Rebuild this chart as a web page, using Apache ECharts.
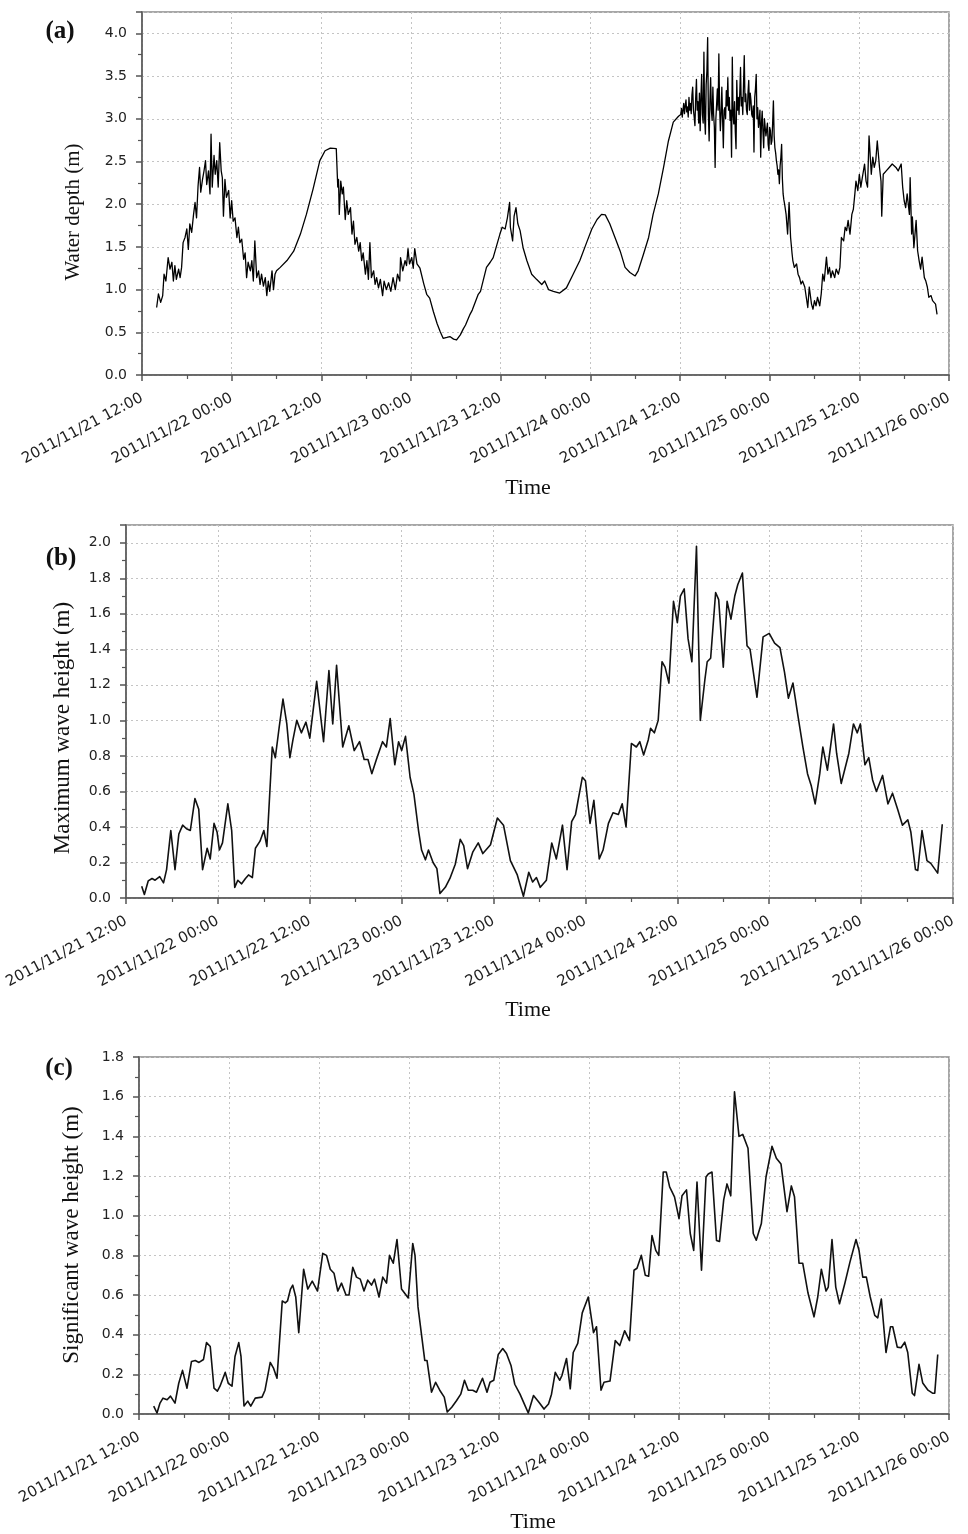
<!DOCTYPE html>
<html>
<head>
<meta charset="utf-8">
<script src="https://cdn.jsdelivr.net/npm/echarts@6/dist/echarts.min.js"></script>
<style>
html,body{margin:0;padding:0;background:#fff;}
#chart{width:968px;height:1534px;}
</style>
</head>
<body>
<div id="chart"></div>
<script>
// x positions are hours after 2011/11/21 12:00
const xTickLabels = ['2011/11/21 12:00','2011/11/22 00:00','2011/11/22 12:00','2011/11/23 00:00','2011/11/23 12:00','2011/11/24 00:00','2011/11/24 12:00','2011/11/25 00:00','2011/11/25 12:00','2011/11/26 00:00'];

// (a) water depth (m) — part 1: 21 12:00 to 24 12:00
const hoursA1 = [1.96,2.2,2.5,2.77,2.95,3.2,3.5,3.75,4.0,4.2,4.4,4.6,4.9,5.1,5.3,5.5,5.76,6.0,6.2,6.4,6.65,6.9,7.1,7.3,7.5,7.7,7.86,8.1,8.3,8.5,8.66,8.9,9.1,9.24,9.4,9.64,9.8,10.0,10.2,10.4,10.6,10.75,10.9,11.1,11.3,11.6,11.8,12.0,12.2,12.45,12.7,12.9,13.1,13.35,13.6,13.8,14.0,14.2,14.5,14.7,14.9,15.1,15.35,15.6,15.8,16.0,16.25,16.5,16.7,16.9,17.1,17.4,17.6,17.8,18.0,18.5,19.4,20.3,21.2,22.0,22.9,23.8,24.5,25.2,26.0,26.2,26.3,26.4,26.6,26.8,26.95,27.2,27.4,27.6,27.9,28.1,28.3,28.5,28.75,29.0,29.2,29.4,29.6,29.9,30.1,30.3,30.5,30.7,31.0,31.2,31.4,31.65,31.9,32.2,32.4,32.7,33.0,33.3,33.6,33.9,34.2,34.5,34.6,34.9,35.2,35.4,35.6,35.8,36.1,36.3,36.5,36.8,37.2,37.7,38.1,38.5,39.0,39.5,39.9,40.3,40.8,41.2,41.7,42.1,42.6,43.0,43.3,43.9,44.2,45.0,45.3,46.1,46.6,47.0,47.9,48.2,48.6,48.9,49.2,49.3,49.6,49.8,50.05,50.3,50.6,51.0,51.5,52.15,52.8,53.5,53.9,54.4,55.05,55.9,56.8,57.7,58.6,59.5,60.2,60.9,61.5,62.0,62.6,63.3,64.0,64.65,65.3,66.0,66.4,67.1,67.8,68.4,69.1,69.8,70.45,71.1,71.8];
const depthA1 = [0.79,0.95,0.85,0.93,1.18,1.10,1.375,1.24,1.32,1.10,1.28,1.12,1.24,1.14,1.26,1.55,1.61,1.71,1.47,1.77,1.67,1.88,2.02,1.84,2.21,2.43,2.14,2.29,2.39,2.51,2.23,2.39,2.12,2.82,2.20,2.57,2.35,2.51,2.20,2.72,2.39,2.31,1.86,2.29,2.08,2.16,1.84,2.04,1.80,1.84,1.61,1.73,1.55,1.59,1.355,1.43,1.14,1.32,1.22,1.34,1.10,1.57,1.14,1.22,1.06,1.18,1.04,1.14,0.93,1.10,0.98,1.22,1.00,1.18,1.22,1.26,1.34,1.45,1.65,1.88,2.18,2.51,2.625,2.656,2.65,2.20,2.29,1.88,2.27,2.12,2.20,1.82,2.04,1.88,1.96,1.65,1.80,1.53,1.61,1.45,1.55,1.34,1.43,1.18,1.34,1.12,1.55,1.14,1.22,1.06,1.14,1.02,1.12,0.93,1.10,1.00,1.08,0.98,1.14,1.00,1.18,1.10,1.375,1.22,1.34,1.28,1.48,1.30,1.375,1.25,1.48,1.30,1.25,1.07,0.945,0.90,0.74,0.60,0.51,0.43,0.44,0.45,0.42,0.41,0.47,0.54,0.585,0.71,0.76,0.945,0.98,1.26,1.32,1.375,1.65,1.73,1.71,1.84,2.02,1.73,1.57,1.86,1.96,1.77,1.69,1.49,1.34,1.18,1.12,1.06,1.10,1.00,0.98,0.96,1.02,1.18,1.34,1.55,1.71,1.82,1.88,1.875,1.77,1.61,1.45,1.26,1.20,1.16,1.22,1.41,1.61,1.88,2.12,2.43,2.74,2.96,3.03];
// (a) part 2: storm peak, 24 12:00 to 25 02:00
const hoursA2 = [72.1,72.2,72.3,72.4,72.5,72.6,72.7,72.8,72.9,73.0,73.1,73.2,73.3,73.4,73.5,73.6,73.7,73.8,73.9,74.0,74.1,74.2,74.3,74.4,74.5,74.6,74.7,74.8,74.9,75.0,75.1,75.2,75.3,75.4,75.5,75.6,75.7,75.8,75.9,76.0,76.1,76.2,76.3,76.4,76.5,76.6,76.7,76.8,76.9,77.0,77.1,77.2,77.3,77.4,77.5,77.6,77.7,77.8,77.9,78.0,78.1,78.2,78.3,78.4,78.5,78.6,78.7,78.8,78.9,79.0,79.1,79.2,79.3,79.4,79.5,79.6,79.7,79.8,79.9,80.0,80.1,80.2,80.3,80.4,80.5,80.6,80.7,80.8,80.9,81.0,81.1,81.2,81.3,81.4,81.5,81.6,81.7,81.8,81.9,82.0,82.1,82.2,82.3,82.4,82.5,82.6,82.7,82.8,82.9,83.0,83.1,83.2,83.3,83.4,83.5,83.6,83.7,83.8,83.9,84.0,84.1,84.2,84.3,84.4,84.5,84.6,84.7,84.8,84.9,85.0,85.1,85.2,85.3,85.4,85.5,85.6,85.7,85.8,85.9,86.0];
const depthA2 = [3.05,3.12,3.02,3.10,3.18,3.06,3.15,3.22,3.08,3.14,3.02,3.25,3.10,3.18,3.06,3.28,3.37,3.10,3.02,2.92,3.25,3.46,3.10,3.20,2.95,3.30,2.86,3.25,3.52,3.05,2.95,3.78,3.00,2.82,3.40,3.56,3.95,3.05,2.74,3.20,3.48,3.10,2.98,3.37,3.05,2.90,2.43,3.00,3.17,3.35,3.10,3.76,3.15,2.86,3.05,3.37,3.00,2.66,3.10,3.13,3.00,3.33,3.15,3.48,3.10,3.25,2.98,3.10,2.55,3.72,3.05,2.94,3.20,2.85,2.65,3.45,3.10,3.25,3.05,3.30,3.60,3.15,3.25,3.05,3.40,3.74,3.20,3.29,3.10,3.05,3.30,3.45,3.10,3.30,3.21,3.05,3.02,3.15,2.61,3.25,3.35,3.52,3.00,3.13,2.90,2.98,3.10,2.55,2.95,3.09,2.85,2.66,3.00,2.98,2.80,2.78,2.95,2.70,2.63,2.90,2.86,2.70,2.74,2.95,3.21,2.80,2.66,2.60,2.51,2.45,2.35,2.40,2.24,2.45,2.55,2.70,2.30,2.12,2.05,2.00];
// (a) part 3: 25 02:00 to end
const hoursA3 = [86.2,86.4,86.6,86.8,87.0,87.1,87.3,87.6,87.8,88.0,88.2,88.4,88.7,88.9,89.1,89.3,89.6,89.8,90.0,90.2,90.4,90.7,90.9,91.1,91.3,91.6,91.8,92.0,92.2,92.4,92.7,92.9,93.2,93.4,93.6,93.9,94.1,94.3,94.5,94.75,95.0,95.2,95.4,95.55,95.8,96.0,96.2,96.4,96.7,96.9,97.1,97.3,97.6,97.8,98.0,98.2,98.4,98.7,98.9,99.0,99.2,99.6,100.0,100.4,100.9,101.2,101.6,101.8,102.0,102.2,102.4,102.7,102.8,103.0,103.1,103.3,103.6,103.8,104.0,104.2,104.4,104.7,104.9,105.1,105.3,105.6,105.8,106.0,106.2,106.4];
const depthA3 = [1.88,1.65,2.02,1.61,1.42,1.34,1.26,1.30,1.18,1.14,1.065,1.10,1.03,0.91,0.79,1.03,0.83,0.77,0.87,0.81,0.91,0.81,0.95,1.18,1.10,1.38,1.18,1.26,1.14,1.22,1.14,1.24,1.18,1.26,1.61,1.57,1.73,1.69,1.81,1.65,1.88,1.94,2.12,2.27,2.16,2.35,2.20,2.31,2.47,2.27,2.20,2.80,2.35,2.55,2.43,2.51,2.74,2.43,2.27,1.86,2.35,2.39,2.43,2.47,2.43,2.39,2.47,2.20,2.04,1.96,2.12,1.88,2.31,1.65,1.85,1.49,1.81,1.455,1.34,1.24,1.38,1.14,1.10,1.03,0.91,0.93,0.87,0.85,0.83,0.71];

// (b) maximum wave height (m)
const hoursB = [2.05,2.4,2.9,3.4,3.8,4.4,4.9,5.3,5.85,6.4,6.9,7.4,7.9,8.4,9.0,9.5,10.0,10.6,11.0,11.5,11.9,12.2,12.6,13.3,13.8,14.2,14.6,15.1,15.6,16.0,16.5,16.9,17.5,18.0,18.4,19.1,19.5,20.0,20.5,21.0,21.4,21.8,22.3,22.9,23.5,24.0,24.9,25.8,26.5,27.0,27.5,28.3,29.1,29.8,30.5,31.1,31.6,32.1,32.7,33.5,34.0,34.5,35.1,35.6,36.0,36.5,37.1,37.6,38.2,38.6,39.1,39.5,40.1,40.6,41.0,41.7,42.3,43.0,43.65,44.1,44.6,45.3,46.0,46.6,47.6,48.5,49.3,50.2,51.1,51.9,52.6,53.1,53.6,54.1,54.9,55.6,56.2,57.0,57.6,58.2,58.7,59.6,60.0,60.6,61.1,61.8,62.3,63.0,63.6,64.3,64.8,65.3,66.0,66.65,67.1,67.6,68.2,68.5,69.0,69.5,70.0,70.4,70.9,71.5,72.0,72.4,72.9,73.4,73.9,74.5,75.0,75.6,75.9,76.35,77.0,77.4,78.0,78.5,79.0,79.5,79.9,80.5,81.1,81.5,82.4,83.2,84.0,84.7,85.4,86.0,86.5,87.1,87.7,88.4,89.0,89.5,90.0,90.6,91.0,91.6,92.4,92.8,93.4,94.4,95.0,95.5,95.9,96.5,97.0,97.5,98.0,98.8,99.5,100.1,100.8,101.4,102.1,102.5,103.1,103.4,103.95,104.6,105.1,106.0,106.6];
const maxWaveHeight = [0.066,0.02,0.096,0.11,0.10,0.12,0.085,0.16,0.38,0.16,0.36,0.41,0.39,0.38,0.56,0.50,0.16,0.28,0.22,0.42,0.37,0.27,0.31,0.53,0.38,0.06,0.10,0.08,0.11,0.13,0.115,0.28,0.32,0.38,0.29,0.85,0.79,0.96,1.12,0.98,0.79,0.89,1.0,0.93,0.99,0.90,1.22,0.88,1.28,0.98,1.31,0.85,0.97,0.83,0.88,0.78,0.78,0.70,0.78,0.88,0.85,1.01,0.75,0.88,0.83,0.91,0.68,0.585,0.38,0.27,0.215,0.27,0.20,0.165,0.025,0.06,0.11,0.19,0.33,0.295,0.165,0.26,0.31,0.25,0.30,0.45,0.41,0.21,0.13,0.01,0.145,0.09,0.115,0.06,0.10,0.31,0.22,0.41,0.16,0.43,0.47,0.68,0.66,0.42,0.55,0.22,0.27,0.42,0.48,0.47,0.53,0.40,0.87,0.85,0.88,0.805,0.89,0.955,0.93,1.0,1.33,1.30,1.21,1.67,1.55,1.70,1.74,1.46,1.33,1.98,1.00,1.23,1.33,1.35,1.72,1.68,1.30,1.67,1.57,1.70,1.765,1.83,1.42,1.40,1.13,1.47,1.49,1.435,1.41,1.27,1.125,1.21,1.04,0.85,0.70,0.63,0.53,0.70,0.85,0.72,0.98,0.815,0.645,0.815,0.98,0.93,0.98,0.75,0.79,0.665,0.60,0.69,0.53,0.59,0.495,0.41,0.44,0.37,0.16,0.155,0.38,0.21,0.195,0.14,0.415];

// (c) significant wave height (m)
const hoursC = [1.96,2.4,2.8,3.2,3.75,4.2,4.8,5.3,5.8,6.4,7.0,7.5,8.0,8.6,9.0,9.5,10.0,10.45,10.8,11.5,11.9,12.4,12.8,13.3,13.6,14.0,14.5,14.9,15.5,16.4,16.8,17.5,17.95,18.4,19.1,19.5,19.8,20.2,20.5,20.9,21.3,21.95,22.5,23.1,23.8,24.5,25.0,25.5,26.0,26.5,27.0,27.6,28.0,28.5,29.0,29.5,30.0,30.5,31.0,31.4,32.0,32.5,33.0,33.4,33.9,34.4,35.0,35.4,35.9,36.5,36.8,37.2,37.7,38.1,38.4,39.0,39.55,40.1,40.7,41.1,41.7,42.35,42.9,43.4,43.9,44.5,45.0,45.8,46.4,46.8,47.3,47.9,48.5,49.0,49.6,50.1,50.8,51.5,51.9,52.6,53.3,54.0,54.6,55.0,55.5,56.1,56.4,57.0,57.5,57.9,58.5,59.1,59.9,60.6,61.0,61.6,62.0,62.8,63.5,64.1,64.75,65.4,66.0,66.4,66.98,67.5,67.95,68.4,68.9,69.3,69.9,70.3,70.75,71.4,72.0,72.4,73.0,73.5,73.96,74.4,75.0,75.6,75.9,76.4,77.0,77.4,77.96,78.4,78.9,79.4,80.0,80.5,81.2,81.9,82.3,82.98,83.6,84.4,84.98,85.6,86.4,86.98,87.4,88.0,88.5,89.2,90.0,90.5,90.98,91.6,91.9,92.4,92.9,93.4,94.1,94.8,95.6,96.0,96.5,96.98,97.5,98.1,98.5,98.98,99.6,100.2,100.5,101.1,101.6,102.1,102.5,103.1,103.4,104.0,104.5,105.2,105.8,106.1,106.5];
const sigWaveHeight = [0.04,0.005,0.055,0.08,0.072,0.09,0.055,0.155,0.22,0.13,0.265,0.27,0.26,0.275,0.36,0.34,0.13,0.115,0.14,0.21,0.155,0.14,0.29,0.36,0.29,0.04,0.065,0.04,0.08,0.085,0.12,0.26,0.23,0.18,0.57,0.56,0.57,0.63,0.65,0.59,0.41,0.73,0.63,0.67,0.62,0.81,0.80,0.73,0.71,0.62,0.66,0.60,0.60,0.74,0.69,0.68,0.62,0.675,0.65,0.68,0.59,0.69,0.66,0.80,0.76,0.88,0.63,0.61,0.585,0.86,0.80,0.54,0.39,0.27,0.27,0.11,0.16,0.12,0.085,0.01,0.034,0.068,0.10,0.17,0.12,0.12,0.11,0.18,0.11,0.16,0.17,0.30,0.33,0.305,0.245,0.15,0.10,0.04,0.005,0.093,0.06,0.025,0.05,0.10,0.21,0.17,0.195,0.28,0.127,0.31,0.356,0.51,0.59,0.41,0.44,0.12,0.16,0.166,0.37,0.345,0.42,0.37,0.725,0.735,0.80,0.70,0.695,0.90,0.825,0.80,1.22,1.22,1.145,1.095,0.985,1.10,1.13,0.91,0.825,1.17,0.725,1.195,1.21,1.22,0.875,0.87,1.08,1.16,1.10,1.625,1.40,1.41,1.34,0.91,0.876,0.96,1.195,1.35,1.29,1.26,1.02,1.15,1.095,0.76,0.76,0.61,0.49,0.59,0.73,0.62,0.64,0.88,0.64,0.556,0.657,0.767,0.88,0.826,0.69,0.69,0.59,0.497,0.485,0.58,0.31,0.44,0.44,0.337,0.334,0.362,0.31,0.105,0.093,0.25,0.156,0.12,0.105,0.105,0.30];

const pair = (xs, ys) => xs.map((x, i) => [x, ys[i]]);
const waterDepthData = pair(hoursA1, depthA1).concat(pair(hoursA2, depthA2), pair(hoursA3, depthA3));

const AXIS_COLOR = '#555';
const GRID_LINE = {show: true, lineStyle: {color: '#c4c4c4', type: [2, 3], width: 1}};

function mkX(gi) {
  return {
    type: 'value', gridIndex: gi, min: 0, max: 108, interval: 12,
    axisLine: {show: true, onZero: false, lineStyle: {color: AXIS_COLOR, width: 1.5}},
    axisTick: {show: true, length: 6, lineStyle: {color: AXIS_COLOR, width: 1.5}},
    minorTick: {show: true, splitNumber: 2, length: 4, lineStyle: {color: AXIS_COLOR, width: 1.2}},
    splitLine: GRID_LINE,
    axisLabel: {
      rotate: 28, margin: 22, fontFamily: 'DejaVu Sans', fontSize: 15, color: '#222',
      formatter: v => xTickLabels[Math.round(v / 12)] || ''
    }
  };
}
function mkY(gi, max, interval, hideMax) {
  return {
    type: 'value', gridIndex: gi, min: 0, max: max, interval: interval,
    axisLine: {show: true, onZero: false, lineStyle: {color: AXIS_COLOR, width: 1.5}},
    axisTick: {show: true, length: 6, lineStyle: {color: AXIS_COLOR, width: 1.5}},
    minorTick: {show: true, splitNumber: 2, length: 4, lineStyle: {color: AXIS_COLOR, width: 1.2}},
    splitLine: GRID_LINE,
    axisLabel: {
      margin: 15, fontFamily: 'DejaVu Sans', fontSize: 14, color: '#222',
      showMaxLabel: !hideMax,
      formatter: v => v.toFixed(1)
    }
  };
}
const gridStyle = {show: true, borderColor: '#8a8a8a', borderWidth: 1.5, backgroundColor: '#fff'};

function txt(text, x, y, size, bold, rot) {
  return {
    type: 'text', x: x, y: y, rotation: rot || 0, z: 10,
    style: {
      text: text, fill: '#111',
      font: (bold ? 'bold ' : '') + size + 'px "Liberation Serif", serif',
      align: 'center', verticalAlign: 'middle',
      textAlign: 'center', textVerticalAlign: 'middle'
    }
  };
}

const chart = echarts.init(document.getElementById('chart'), null, {renderer: 'canvas'});
chart.setOption({
  animation: false,
  backgroundColor: '#fff',
  grid: [
    Object.assign({left: 142, top: 12, width: 807, height: 363}, gridStyle),
    Object.assign({left: 126, top: 525, width: 827, height: 373}, gridStyle),
    Object.assign({left: 139, top: 1057, width: 810, height: 357}, gridStyle)
  ],
  xAxis: [mkX(0), mkX(1), mkX(2)],
  yAxis: [mkY(0, 4.25, 0.5, true), mkY(1, 2.1, 0.2, true), mkY(2, 1.8, 0.2, false)],
  series: [
    {type: 'line', xAxisIndex: 0, yAxisIndex: 0, data: waterDepthData, showSymbol: false, symbol: 'none',
     lineStyle: {color: '#000', width: 1.3, join: 'round'}},
    {type: 'line', xAxisIndex: 1, yAxisIndex: 1, data: pair(hoursB, maxWaveHeight), showSymbol: false, symbol: 'none',
     lineStyle: {color: '#111', width: 1.6, join: 'round'}},
    {type: 'line', xAxisIndex: 2, yAxisIndex: 2, data: pair(hoursC, sigWaveHeight), showSymbol: false, symbol: 'none',
     lineStyle: {color: '#111', width: 1.6, join: 'round'}}
  ],
  graphic: [
    txt('(a)', 60, 32, 25, true),
    txt('(b)', 61, 559, 25, true),
    txt('(c)', 59, 1069, 25, true),
    txt('Water depth (m)', 73, 212, 21, false, Math.PI / 2),
    txt('Maximum wave height (m)', 63, 728, 23, false, Math.PI / 2),
    txt('Significant wave height (m)', 72, 1235, 23, false, Math.PI / 2),
    txt('Time', 528, 488, 22, false),
    txt('Time', 528, 1010, 22, false),
    txt('Time', 533, 1522, 22, false)
  ]
});
</script>
</body>
</html>
